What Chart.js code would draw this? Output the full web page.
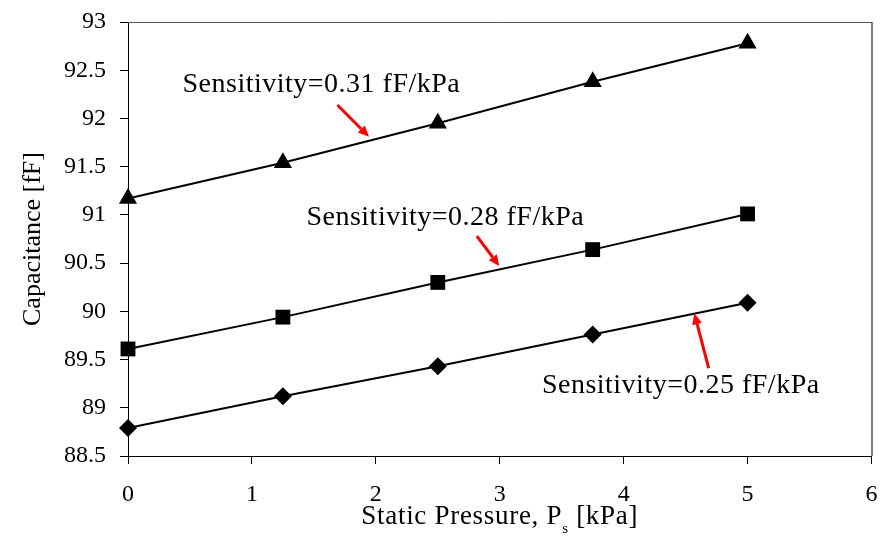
<!DOCTYPE html>
<html>
<head>
<meta charset="utf-8">
<script src="https://cdn.jsdelivr.net/npm/chart.js@4"></script>
<style>
  html, body { margin: 0; padding: 0; background: #fff; }
  #wrap { width: 882px; height: 540px; }
</style>
</head>
<body>
<div id="wrap"><canvas id="capChart" width="882" height="540"></canvas></div>
<script>
// ---- DATA ----
const pressure = [0, 1.25, 2.5, 3.75, 5];
const capHigh = [91.17, 91.54, 91.95, 92.38, 92.78];   // triangles
const capMid = [89.61, 89.94, 90.30, 90.64, 91.01];    // squares
const capLow = [88.79, 89.12, 89.43, 89.76, 90.09];    // diamonds
const seriesNames = ["0.31 fF/kPa", "0.28 fF/kPa", "0.25 fF/kPa"];

// annotation text + arrows, in data units
const noteText = ["Sensitivity=0.31 fF/kPa", "Sensitivity=0.28 fF/kPa", "Sensitivity=0.25 fF/kPa"];
const noteAt = [[0.44, 92.27], [1.44, 90.90], [3.34, 89.15]];
const arrowFrom = [[1.69, 92.14], [2.815, 90.78], [4.686, 89.41]];
const arrowTo = [[1.945, 91.81], [2.997, 90.47], [4.57, 89.98]];

const SERIF = '"Liberation Serif", "Times New Roman", serif';

function toXY(arr) {
  return pressure.map((p, i) => ({ x: p, y: arr[i] }));
}

function series(label, values, style, r) {
  return {
    label: label,
    data: toXY(values),
    borderColor: "#000",
    backgroundColor: "#000",
    borderWidth: 2,
    pointStyle: style,
    pointRadius: r,
    pointBorderWidth: 0,
    pointBackgroundColor: "#000",
    tension: 0,
    clip: false
  };
}

// ---- PLUGIN: plot box, x title with subscript, notes with red arrows ----
const extras = {
  id: "extras",
  afterDatasetsDraw(chart) {
    const ctx = chart.ctx;
    const a = chart.chartArea;
    const xs = chart.scales.x, ys = chart.scales.y;

    ctx.save();
    // top + right border of plot
    ctx.lineWidth = 1;
    ctx.strokeStyle = "#555";
    ctx.beginPath();
    ctx.moveTo(a.left, a.top + 0.5);
    ctx.lineTo(a.right, a.top + 0.5);
    ctx.stroke();
    ctx.strokeStyle = "#000";
    ctx.beginPath();
    ctx.moveTo(a.right + 0.5, a.top);
    ctx.lineTo(a.right + 0.5, a.bottom);
    ctx.stroke();

    // notes
    ctx.fillStyle = "#000";
    ctx.font = "28px " + SERIF;
    ctx.letterSpacing = "0.5px";
    ctx.textAlign = "left";
    ctx.textBaseline = "alphabetic";
    noteText.forEach((t, i) => {
      ctx.fillText(t, xs.getPixelForValue(noteAt[i][0]), ys.getPixelForValue(noteAt[i][1]));
    });
    ctx.letterSpacing = "0px";

    // red arrows
    ctx.strokeStyle = "#ff0000";
    ctx.fillStyle = "#ff0000";
    ctx.lineWidth = 3;
    arrowFrom.forEach((f, i) => {
      const x1 = xs.getPixelForValue(f[0]), y1 = ys.getPixelForValue(f[1]);
      const x2 = xs.getPixelForValue(arrowTo[i][0]), y2 = ys.getPixelForValue(arrowTo[i][1]);
      const ang = Math.atan2(y2 - y1, x2 - x1);
      const head = 11;
      const bx = x2 - head * Math.cos(ang), by = y2 - head * Math.sin(ang);
      ctx.beginPath();
      ctx.moveTo(x1, y1);
      ctx.lineTo(bx, by);
      ctx.stroke();
      ctx.beginPath();
      ctx.moveTo(x2, y2);
      ctx.lineTo(bx + 5 * Math.sin(ang), by - 5 * Math.cos(ang));
      ctx.lineTo(bx - 5 * Math.sin(ang), by + 5 * Math.cos(ang));
      ctx.closePath();
      ctx.fill();
    });

    // x axis title with subscript s
    ctx.fillStyle = "#000";
    ctx.textBaseline = "alphabetic";
    ctx.textAlign = "left";
    ctx.letterSpacing = "0.7px";
    const big = "27px " + SERIF, small = "15px " + SERIF;
    const p1 = "Static Pressure, P", p2 = "s", p3 = " [kPa]";
    ctx.font = big;
    const w1 = ctx.measureText(p1).width, w3 = ctx.measureText(p3).width;
    ctx.font = small;
    const w2 = ctx.measureText(p2).width;
    const total = w1 + w2 + w3;
    let tx = (a.left + a.right) / 2 - total / 2;
    const base = 524;
    ctx.font = big;
    ctx.fillText(p1, tx, base);
    tx += w1;
    ctx.font = small;
    ctx.fillText(p2, tx, base + 9);
    tx += w2;
    ctx.font = big;
    ctx.fillText(p3, tx, base);
    ctx.restore();
  }
};

// ---- CHART ----
new Chart(document.getElementById("capChart"), {
  type: "line",
  data: {
    datasets: [
      series(seriesNames[0], capHigh, "triangle", 10.5),
      series(seriesNames[1], capMid, "rect", 10.5),
      series(seriesNames[2], capLow, "rectRot", 9)
    ]
  },
  options: {
    responsive: false,
    animation: false,
    layout: { padding: { top: 22, right: 10, left: 0, bottom: 0 } },
    plugins: {
      legend: { display: false },
      tooltip: { enabled: false }
    },
    scales: {
      x: {
        type: "linear",
        min: 0,
        max: 6,
        ticks: { stepSize: 1, color: "#000", padding: 16, font: { family: SERIF, size: 24 } },
        grid: { drawOnChartArea: false, drawTicks: true, tickLength: 8, color: "#000" },
        border: { color: "#000", width: 1 },
        afterFit(scale) {
          scale.height = 84;
          scale.paddingLeft = 0;
          scale.paddingRight = 0;
        }
      },
      y: {
        min: 88.5,
        max: 93,
        ticks: {
          stepSize: 0.5,
          color: "#000",
          padding: 14,
          font: { family: SERIF, size: 24 },
          callback: v => String(Math.round(v * 10) / 10)
        },
        grid: { drawOnChartArea: false, drawTicks: true, tickLength: 8, color: "#000" },
        border: { color: "#000", width: 1 },
        title: {
          display: true,
          text: "Capacitance [fF]",
          color: "#000",
          padding: { top: 18, bottom: 0 },
          font: { family: SERIF, size: 26, weight: "normal" }
        },
        afterFit(scale) {
          scale.width = 128;
          scale.paddingTop = 0;
          scale.paddingBottom = 0;
        }
      }
    }
  },
  plugins: [extras]
});
</script>
</body>
</html>
